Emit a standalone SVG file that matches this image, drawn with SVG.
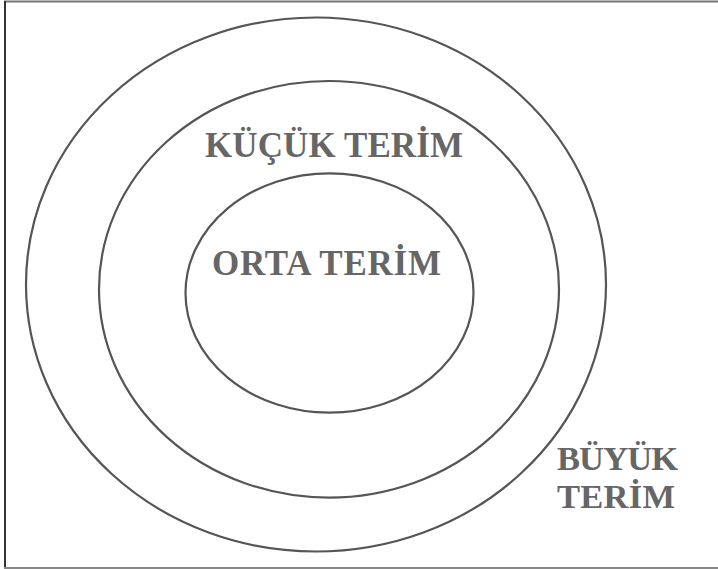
<svg xmlns="http://www.w3.org/2000/svg" width="718" height="569" viewBox="0 0 718 569">
<style>
.ring{fill:none;stroke:#555;stroke-width:2.2}
.lbl{font-family:"Liberation Serif","Times New Roman",serif;font-weight:bold;fill:#666}
</style>
<rect width="718" height="569" fill="#fff"/>
<g id="frame">
<line x1="4" y1="1.5" x2="718" y2="1.5" stroke="#777" stroke-width="2"/>
<line x1="5" y1="1" x2="5" y2="568" stroke="#333" stroke-width="2"/>
<line x1="4" y1="568" x2="718" y2="568" stroke="#888" stroke-width="2"/>
</g>
<g id="buyuk-terim">
<ellipse class="ring" cx="316" cy="284.5" rx="290" ry="267"/>
<text class="lbl" font-size="34.5" x="557" y="470" textLength="121" lengthAdjust="spacing">BÜYÜK</text>
<text class="lbl" font-size="34.5" x="557" y="508" textLength="118" lengthAdjust="spacing">TERİM</text>
</g>
<g id="kucuk-terim">
<ellipse class="ring" cx="329" cy="289.3" rx="230" ry="208.3"/>
<text class="lbl" font-size="35" x="205" y="157" textLength="258" lengthAdjust="spacing">KÜÇÜK TERİM</text>
</g>
<g id="orta-terim">
<ellipse class="ring" cx="329.5" cy="293" rx="144" ry="119.7"/>
<text class="lbl" font-size="35" x="212" y="275" textLength="229" lengthAdjust="spacing">ORTA TERİM</text>
</g>
<g id="connectors"/>
</svg>
